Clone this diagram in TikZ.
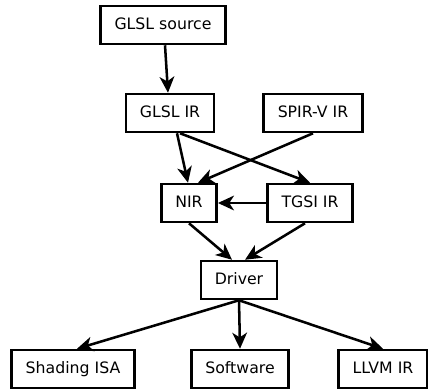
\documentclass[tikz,border=0pt]{standalone}
\usepackage{fontspec}
\setmainfont{DejaVu Sans}
\usepackage{tikz}
\usetikzlibrary{positioning,arrows.meta}

\begin{document}
\begin{tikzpicture}[x=0.75pt,y=-0.75pt,font=\fontsize{11.8pt}{14pt}\selectfont,
  stage/.style={draw,line width=1.9pt,minimum height=28.5pt,inner xsep=10.5pt,inner ysep=0pt,text height=1.45ex,text depth=.3ex},
  flow/.style={line width=1.9pt,-{Stealth[length=12pt,width=11pt,inset=3.5pt]}}]
  \useasboundingbox (0,0) rectangle (428,389);
  % sources and front-end IRs
  \node[stage] (src) at (163,25) {GLSL source};
  \node[stage] (glslir) at (170,113) {GLSL IR};
  \node[stage] (spirv) at (313,113) {SPIR-V IR};
  % middle IRs
  \node[stage,minimum width=39pt] (nir) at (189,203) {NIR};
  \node[stage] (tgsi) at (310,203) {TGSI IR};
  \node[stage] (drv) at (239,280) {Driver};
  % back ends
  \node[stage] (isa) at (73,369) {Shading ISA};
  \node[stage] (sw) at (240,369) {Software};
  \node[stage] (llvm) at (383,369) {LLVM IR};
  \draw[flow] ([xshift=1.5pt]src.south) -- ([xshift=-1.5pt]glslir.north);
  \draw[flow] ([xshift=5.25pt]glslir.south) -- ([xshift=-0.75pt]nir.north);
  \draw[flow] ([xshift=7.5pt]glslir.south) -- (tgsi.north);
  \draw[flow] (spirv.south) -- ([xshift=6.75pt]nir.north);
  \draw[flow] (tgsi.west) -- (nir.east);
  \draw[flow] (nir.south) -- ([xshift=-5.25pt]drv.north);
  \draw[flow] ([xshift=-3.75pt]tgsi.south) -- ([xshift=4.5pt]drv.north);
  \foreach \t/\s in {isa/3pt,sw/0pt,llvm/0pt}
    \draw[flow] (drv.south) -- ([xshift=\s]\t.north);
\end{tikzpicture}
\end{document}
